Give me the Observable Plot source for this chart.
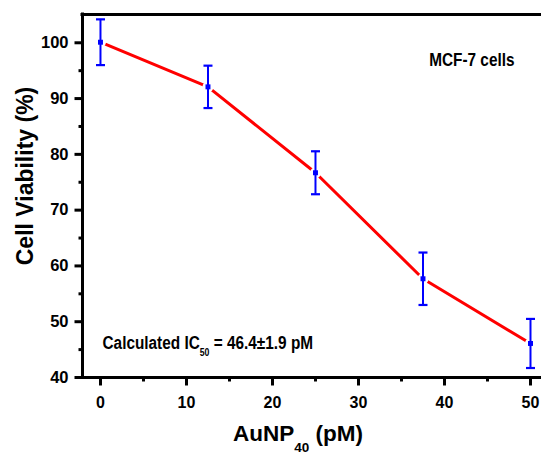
<!DOCTYPE html>
<html>
<head>
<meta charset="utf-8">
<script src="https://cdn.jsdelivr.net/npm/d3@7"></script>
<script src="https://cdn.jsdelivr.net/npm/@observablehq/plot@0.6"></script>
<style>
  html, body { margin: 0; padding: 0; background: #fff; }
  #chart svg { display: block; }
</style>
</head>
<body>
<div id="chart"></div>
<script>
// AuNP40 concentration (pM) against MCF-7 cell viability (%), mean ± error
const concentration = [0, 12.5, 25, 37.5, 50];
const viability = [100.1, 92.1, 76.7, 57.7, 46.1];
const viabilityErr = [4.1, 3.8, 3.85, 4.7, 4.4];

const xTicks = [0, 10, 20, 30, 40, 50];
const xMinorTicks = [5, 15, 25, 35, 45];
const yTicks = [40, 50, 60, 70, 80, 90, 100];
const yMinorTicks = [45, 55, 65, 75, 85, 95];

const xDomain = [-2.09, 51.28];
const yDomain = [40, 105.07];

const cellLabel = "MCF-7 cells";
const ic50Label = "Calculated IC50 = 46.4±1.9 pM";
const ic50Parts = [["Calculated IC", false], ["50", true], [" = 46.4±1.9 pM", false]];
const xTitle = "AuNP40 (pM)";
const xTitleParts = [["AuNP", false], ["40", true], [" (pM)", false]];
const yTitle = "Cell Viability (%)";

const rows = concentration.map((c, i) => ({c, v: viability[i], e: viabilityErr[i]}));

// symbols whose extent equals the dot radius r
const radius = size => Math.sqrt(size / Math.PI);
const capSymbol = {draw(ctx, size) { const w = radius(size); ctx.moveTo(-w, 0); ctx.lineTo(w, 0); }};
const downTick = {draw(ctx, size) { ctx.moveTo(0, 0); ctx.lineTo(0, radius(size)); }};
const leftTick = {draw(ctx, size) { ctx.moveTo(0, 0); ctx.lineTo(-radius(size), 0); }};

const sans = "'Liberation Sans', Arial, Helvetica, sans-serif";

const plot = Plot.plot({
  width: 541,
  height: 454,
  marginLeft: 82,
  marginRight: 0,
  marginTop: 14,
  marginBottom: 77,
  x: {domain: xDomain, axis: null},
  y: {domain: yDomain, axis: null},
  style: {fontFamily: sans, fontWeight: "bold", fontSize: "16px", color: "black", background: "white", overflow: "visible"},
  marks: [
    // curve through the means, with small gaps around each point
    Plot.line(rows, {x: "c", y: "v", stroke: "#ff0000", strokeWidth: 3}),
    Plot.dot(rows, {x: "c", y: "v", r: 5.5, fill: "white"}),
    // error bars
    Plot.ruleX(rows, {x: "c", y1: d => d.v - d.e, y2: d => d.v + d.e, stroke: "#0000ff", strokeWidth: 2}),
    Plot.dot(rows, {x: "c", y: d => d.v + d.e, symbol: capSymbol, r: 4.5, stroke: "#0000ff", strokeWidth: 2.2}),
    Plot.dot(rows, {x: "c", y: d => d.v - d.e, symbol: capSymbol, r: 4.5, stroke: "#0000ff", strokeWidth: 2.2}),
    Plot.dot(rows, {x: "c", y: "v", symbol: "square", r: 2.8, fill: "#0000ff"}),

    // x axis ticks and labels
    Plot.dot(xTicks, {x: d => d, y: () => yDomain[0], symbol: downTick, r: 8, stroke: "black", strokeWidth: 3}),
    Plot.dot(xMinorTicks, {x: d => d, y: () => yDomain[0], symbol: downTick, r: 4, stroke: "black", strokeWidth: 3}),
    Plot.text(xTicks, {x: d => d, y: () => yDomain[0], text: d => String(d), dy: 25, fontSize: 16, fontWeight: "bold"}),
    // y axis ticks and labels
    Plot.dot(yTicks, {x: () => xDomain[0], y: d => d, symbol: leftTick, r: 8, stroke: "black", strokeWidth: 3}),
    Plot.dot(yMinorTicks, {x: () => xDomain[0], y: d => d, symbol: leftTick, r: 4, stroke: "black", strokeWidth: 3}),
    Plot.text(yTicks, {x: () => xDomain[0], y: d => d, text: d => String(d), dx: -14, textAnchor: "end", fontSize: 16.5, fontWeight: "bold"}),

    // plot box: left, bottom and top edges
    Plot.ruleX([xDomain[0]], {stroke: "black", strokeWidth: 3, strokeLinecap: "square"}),
    Plot.ruleY([yDomain[0], yDomain[1]], {stroke: "black", strokeWidth: 3, strokeLinecap: "square"}),

    // axis titles
    Plot.text([yTitle], {frameAnchor: "left", textAnchor: "middle", dx: -57, dy: -20, rotate: -90, fontSize: 23, fontWeight: "bold"}),
    Plot.text([xTitle], {frameAnchor: "bottom", textAnchor: "middle", dx: -14, dy: 63, lineAnchor: "bottom", fontSize: 22.5, fontWeight: "bold"}),

    // annotations
    Plot.text([cellLabel], {frameAnchor: "top-right", dx: -27, dy: 51, lineAnchor: "bottom", textAnchor: "end", fontSize: 18.5, fontWeight: "bold"}),
    Plot.text([ic50Label], {frameAnchor: "bottom-left", dx: 20, dy: -29, lineAnchor: "bottom", textAnchor: "start", fontSize: 18.5, fontWeight: "bold"})
  ]
});

const texts = Array.from(plot.querySelectorAll("text"));
const findText = s => texts.filter(t => t.textContent === s);

// rebuild a text element from parts, lowering the subscript parts
function withSubscripts(t, parts, subSize, shift) {
  t.textContent = "";
  let lowered = false;
  for (const [str, sub] of parts) {
    const ts = document.createElementNS("http://www.w3.org/2000/svg", "tspan");
    ts.textContent = str;
    if (sub) {
      ts.setAttribute("font-size", subSize);
      ts.setAttribute("dy", shift);
      lowered = true;
    } else if (lowered) {
      ts.setAttribute("dy", -shift);
      lowered = false;
    }
    t.appendChild(ts);
  }
}

// condensed lettering for the in-plot notes: squeeze horizontally about the anchor
function condense(t, k) {
  const tr = t.getAttribute("transform") || "";
  const x = +(t.getAttribute("x") || 0), y = +(t.getAttribute("y") || 0);
  t.removeAttribute("x"); t.removeAttribute("y");
  t.setAttribute("transform", `${tr} translate(${x},${y}) scale(${k},1)`);
}

findText(ic50Label).forEach(t => { withSubscripts(t, ic50Parts, 10.5, 7.5); condense(t, 0.83); });
findText(cellLabel).forEach(t => condense(t, 0.83));
findText(xTitle).forEach(t => withSubscripts(t, xTitleParts, 13.5, 11));

document.getElementById("chart").appendChild(plot);
</script>
</body>
</html>
